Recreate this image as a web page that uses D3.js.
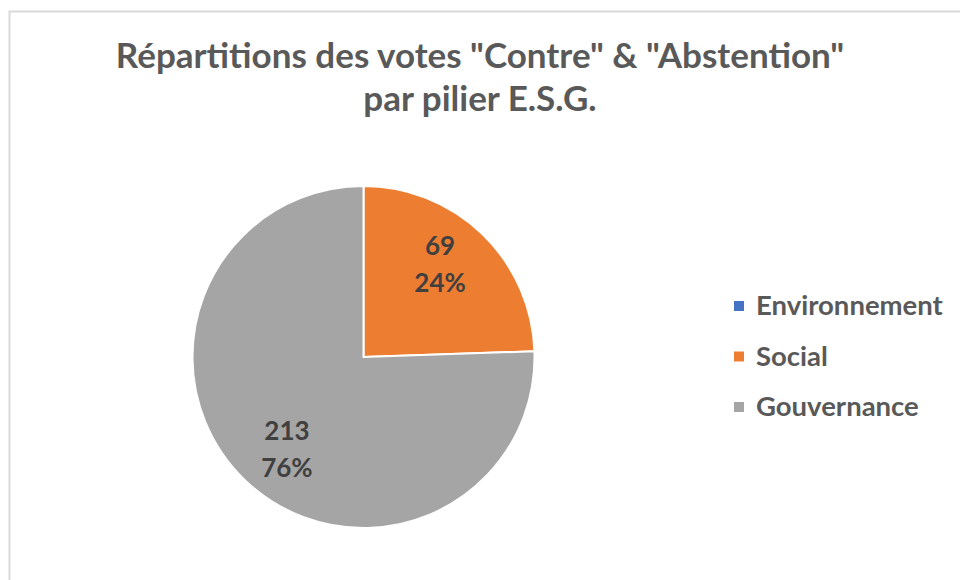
<!DOCTYPE html>
<html>
<head>
<meta charset="utf-8">
<script src="https://cdn.jsdelivr.net/npm/d3@7"></script>
<style>
  body { margin: 0; background: #fff; }
  svg { display: block; font-family: Lato, "Open Sans", sans-serif; }
</style>
</head>
<body>
<svg id="chart" width="960" height="580"></svg>
<script>
// chart data
var categories = ["Environnement", "Social", "Gouvernance"];
var votes = [0, 69, 213];
var percentLabels = ["0%", "24%", "76%"];
var colors = ["#4472C4", "#ED7D31", "#A5A5A5"];
var titleLines = ['Répartitions des votes "Contre" & "Abstention"', 'par pilier E.S.G.'];

var svg = d3.select("#chart");

// light frame of the chart area
svg.append("path")
  .attr("d", "M9.5,580 L9.5,11.5 L960,11.5")
  .attr("fill", "none")
  .attr("stroke", "#d9d9d9")
  .attr("stroke-width", 2);

svg.selectAll(".title")
  .data(titleLines)
  .enter()
  .append("text")
  .attr("class", "title")
  .attr("x", 480)
  .attr("y", function (d, i) { return 68 + i * 43; })
  .attr("text-anchor", "middle")
  .attr("font-size", 35)
  .attr("font-weight", "bold")
  .attr("fill", "#595959")
  .text(function (d) { return d; });

var radius = 171;
var center = [363.5, 357];

var pie = d3.pie().sort(null).value(function (d) { return d; });
var arc = d3.arc().innerRadius(0).outerRadius(radius);
var labelArc = d3.arc().innerRadius(radius * 0.7).outerRadius(radius * 0.7);

var arcs = pie(votes);
var colorScale = d3.scaleOrdinal().domain(categories).range(colors);

var g = svg.append("g")
  .attr("transform", "translate(" + center[0] + "," + center[1] + ")");

g.selectAll("path")
  .data(arcs)
  .enter()
  .append("path")
  .attr("d", arc)
  .attr("fill", function (d, i) { return colorScale(categories[i]); })
  .attr("stroke", "#fff")
  .attr("stroke-width", function (d) { return d.value > 0 ? 2 : 0; });

// excel puts the labels a bit steeper than the centroid
var labels = g.selectAll(".label")
  .data(arcs.filter(function (d) { return d.value > 0; }))
  .enter()
  .append("text")
  .attr("class", "label")
  .attr("transform", function (d) {
    var c = labelArc.centroid(d);
    return "translate(" + (c[0] * 0.92) + "," + (c[1] * 1.07) + ")";
  })
  .attr("text-anchor", "middle")
  .attr("font-size", 26)
  .attr("font-weight", "bold")
  .attr("fill", "#404040");

labels.append("tspan")
  .attr("x", 0)
  .attr("y", -9.5)
  .text(function (d) { return d.value; });

labels.append("tspan")
  .attr("x", 0)
  .attr("y", 27.5)
  .text(function (d) { return percentLabels[d.index]; });

// legend
var legend = svg.selectAll(".legend")
  .data(categories)
  .enter()
  .append("g")
  .attr("class", "legend")
  .attr("transform", function (d, i) { return "translate(734," + (306 + i * 50.5) + ")"; });

legend.append("rect")
  .attr("x", 0)
  .attr("y", -5)
  .attr("width", 10)
  .attr("height", 10)
  .attr("fill", function (d) { return colorScale(d); });

legend.append("text")
  .attr("x", 22)
  .attr("y", 9)
  .attr("font-size", 27.5)
  .attr("font-weight", "bold")
  .attr("fill", "#595959")
  .text(function (d) { return d; });
</script>
</body>
</html>
